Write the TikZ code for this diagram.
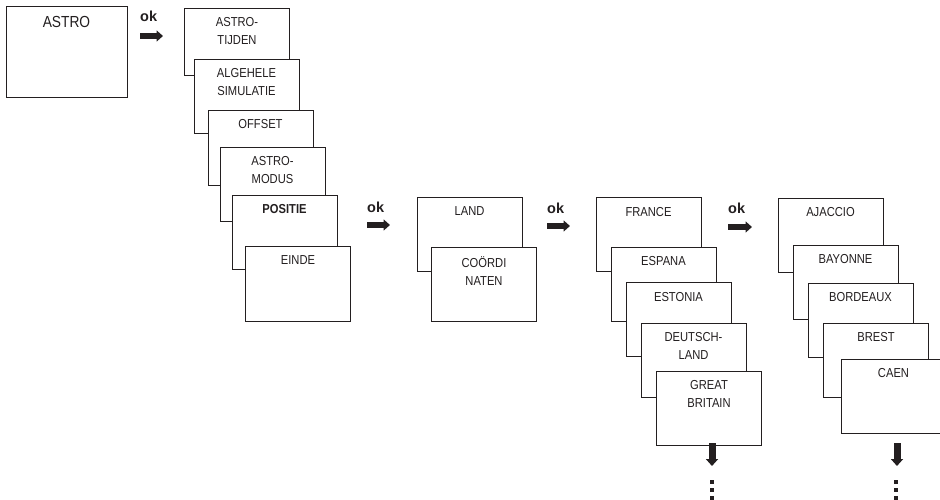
\documentclass[tikz,border=0pt]{standalone}
\usepackage{fontspec}
\setmainfont{Liberation Sans}[FakeStretch=0.86]
\newfontfamily\okfont{Liberation Sans}
\usetikzlibrary{arrows.meta}
\definecolor{ink}{HTML}{231F20}
\tikzset{
  scr/.style={draw=ink, line width=0.9pt, fill=white, inner sep=0pt,
              minimum width=105pt, minimum height=74pt},
  txt/.style={anchor=north, inner sep=0pt, yshift=-10pt, align=center,
              text=ink, font=\fontsize{13}{17.5}\selectfont},
  oktxt/.style={anchor=base west, inner sep=0pt, text=ink,
              font=\okfont\bfseries\fontsize{14.5}{16}\selectfont},
  okarrow/.style={draw=ink, line width=6pt,
              -{Triangle[length=6.5pt,width=11pt]}},
  downarrow/.style={draw=ink, line width=7pt,
              -{Triangle[length=7pt,width=12pt]}},
  dot/.style={fill=ink, minimum size=4pt, inner sep=0pt}
}
\begin{document}
\begin{tikzpicture}[x=1pt,y=-1pt]
\clip (0,0) rectangle (940,500);
\fill[white] (0,0) rectangle (940,500);

% start screen
\node[scr, minimum width=121pt, minimum height=91pt,
      label={[txt, font=\fontsize{16}{18}\selectfont, yshift=-1pt]north:ASTRO}] (astro) at (66.5,51.5) {};

% ok 1
\node[oktxt] (ok1) at (140,22) {ok};
\coordinate (a1s) at (140,36); \coordinate (a1e) at (163,36);
\draw[okarrow] (a1s) -- (a1e);

% stack 1
\node[scr, minimum height=67pt, label={[txt]north:ASTRO-\\TIJDEN}] (b1) at (237,41.5) {};
\node[scr, label={[txt]north:ALGEHELE\\SIMULATIE}] (b2) at (246.5,96) {};
\node[scr, minimum height=75pt, label={[txt]north:OFFSET}] (b3) at (260.5,147.5) {};
\node[scr, label={[txt]north:ASTRO-\\MODUS}] (b4) at (272.5,184) {};
\node[scr, label={[txt, font=\bfseries\fontsize{13}{17.5}\selectfont]north:POSITIE}] (b5) at (284.5,232) {};
\node[scr, minimum height=75pt, label={[txt]north:EINDE}] (b6) at (298,283.5) {};

% ok 2
\node[oktxt] (ok2) at (367,212) {ok};
\coordinate (a2s) at (367,225); \coordinate (a2e) at (390,225);
\draw[okarrow] (a2s) -- (a2e);

% stack 2
\node[scr, label={[txt]north:LAND}] (c1) at (469.5,234) {};
\node[scr, label={[txt]north:COÖRDI\\NATEN}] (c2) at (484,284) {};

% ok 3
\node[oktxt] (ok3) at (547,213) {ok};
\coordinate (a3s) at (547,226); \coordinate (a3e) at (570,226);
\draw[okarrow] (a3s) -- (a3e);

% stack 3
\node[scr, label={[txt]north:FRANCE}] (d1) at (648.5,234.5) {};
\node[scr, label={[txt]north:ESPANA}] (d2) at (663.5,284) {};
\node[scr, label={[txt]north:ESTONIA}] (d3) at (678.5,319.5) {};
\node[scr, label={[txt]north:DEUTSCH-\\LAND}] (d4) at (693.5,360) {};
\node[scr, label={[txt]north:GREAT\\BRITAIN}] (d5) at (709,408) {};

% ok 4
\node[oktxt] (ok4) at (728,213) {ok};
\coordinate (a4s) at (728,227); \coordinate (a4e) at (752,227);
\draw[okarrow] (a4s) -- (a4e);

% stack 4
\node[scr, label={[txt]north:AJACCIO}] (e1) at (830.5,235) {};
\node[scr, label={[txt]north:BAYONNE}] (e2) at (845.5,282) {};
\node[scr, label={[txt]north:BORDEAUX}] (e3) at (860.5,320) {};
\node[scr, label={[txt]north:BREST}] (e4) at (876,360) {};
\node[scr, label={[txt]north:CAEN}] (e5) at (893.5,396) {};

% down arrows and dots
\coordinate (dn1) at (712,466);
\draw[downarrow] (712,443) -- (dn1);
\node[dot] (p1) at (712,482) {};
\node[dot] (p2) at (712,489.5) {};
\node[dot] (p3) at (712,498) {};

\coordinate (dn2) at (897,466);
\draw[downarrow] (897,443) -- (dn2);
\node[dot] (q1) at (896,482) {};
\node[dot] (q2) at (896,489.5) {};
\node[dot] (q3) at (896,498) {};
\end{tikzpicture}
\end{document}
